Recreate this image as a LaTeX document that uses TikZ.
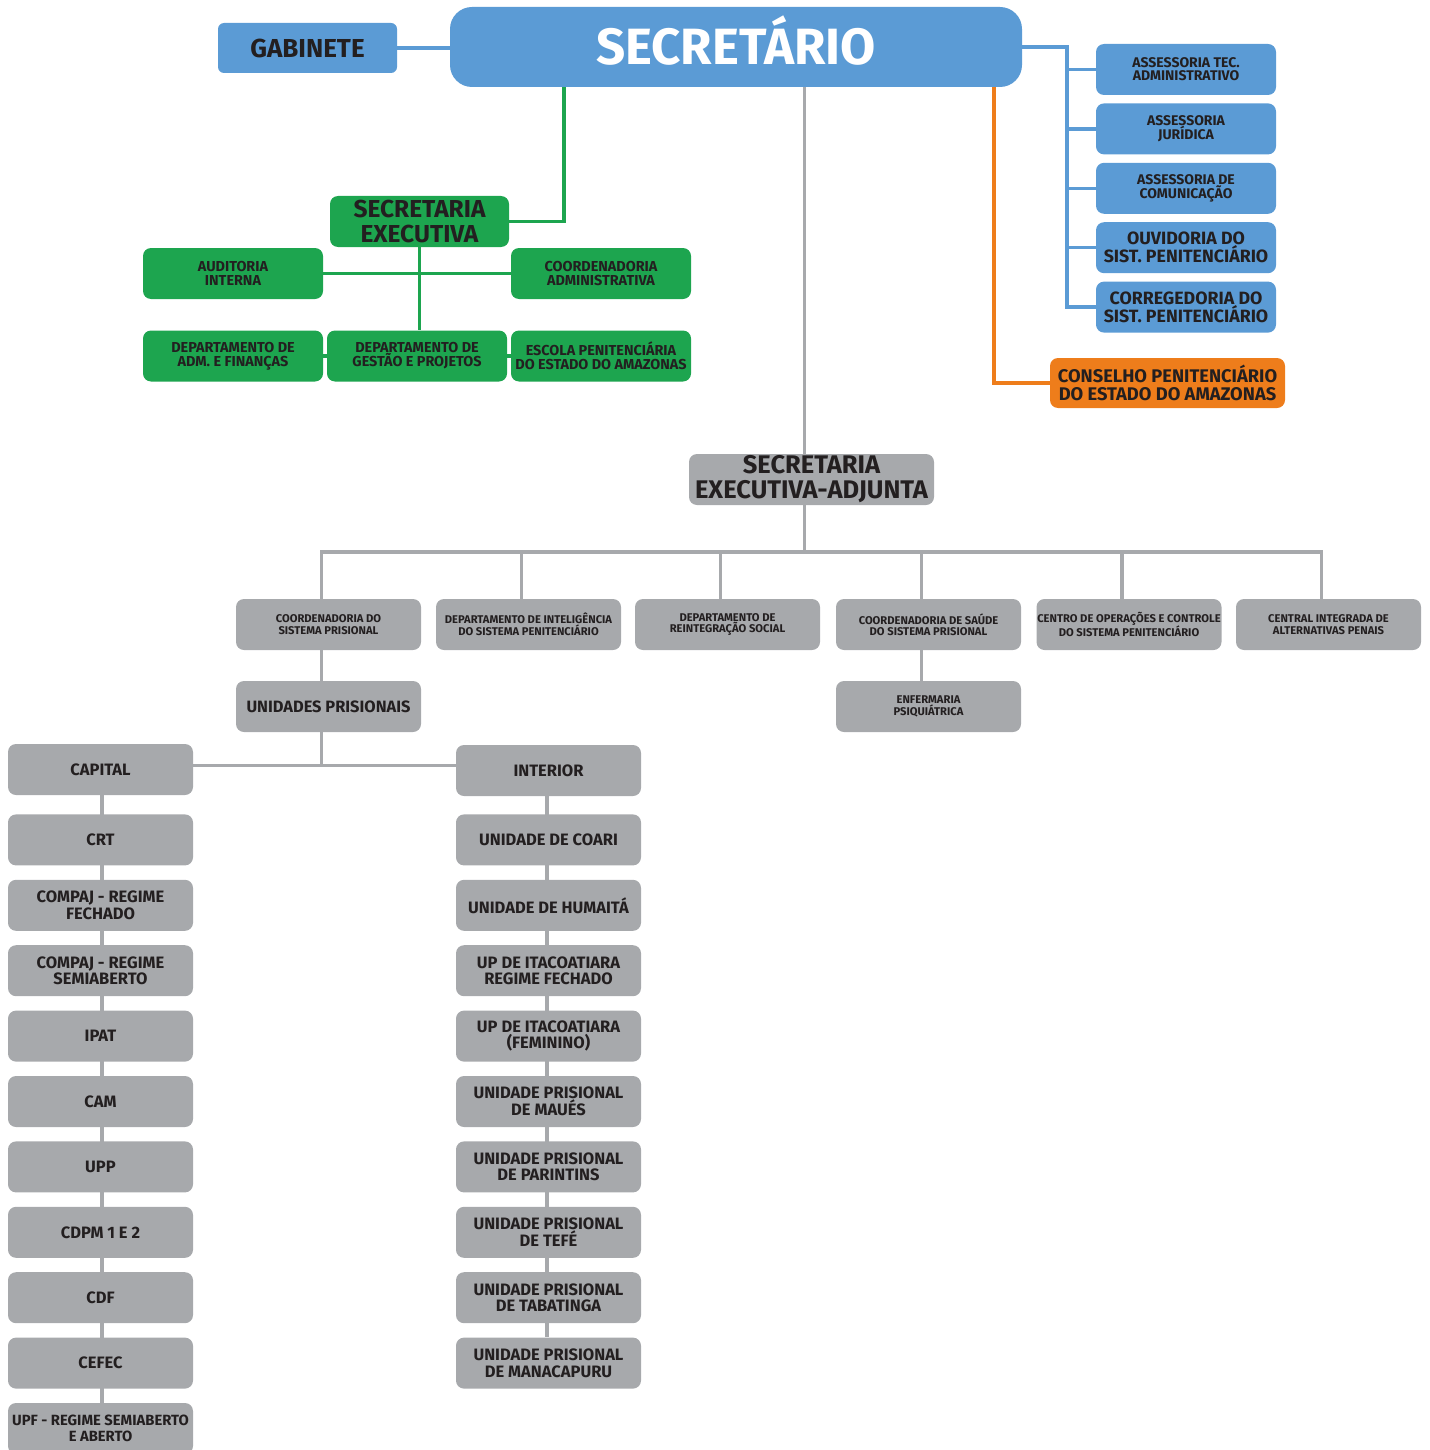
\documentclass[tikz,border=0pt]{standalone}
\usepackage{fontspec}
\setmainfont{Fira Sans}
\usetikzlibrary{positioning, backgrounds}
\definecolor{secblue}{HTML}{5B9BD5}
\definecolor{secgreen}{HTML}{1DA54F}
\definecolor{secorange}{HTML}{EE7D1B}
\definecolor{secgrey}{HTML}{A7A9AC}
\definecolor{sectext}{HTML}{231F20}

\begin{document}
\begin{tikzpicture}[x=1pt, y=-1pt,
    node distance=14pt,
    box/.style={rectangle, rounded corners=8pt, inner sep=0pt, align=center, text=sectext, minimum height=51pt},
    bluebox/.style={box, fill=secblue, minimum width=180pt},
    greenbox/.style={box, fill=secgreen, minimum width=180pt},
    greybox/.style={box, fill=secgrey, minimum width=185pt},
    orangebox/.style={box, fill=secorange, minimum width=235pt, minimum height=50pt},
    unitbox/.style={greybox, font=\bfseries\fontsize{16.5}{16.5}\selectfont},
    smallgrey/.style={greybox, font=\bfseries\fontsize{11.2}{11.5}\selectfont},
    smallgreen/.style={greenbox, font=\bfseries\fontsize{14.4}{14}\selectfont},
    smallblue/.style={bluebox, font=\bfseries\fontsize{14}{13}\selectfont},
    bigblue/.style={bluebox, font=\bfseries\fontsize{17.8}{18}\selectfont},
    blueline/.style={draw=secblue, line width=3.5pt},
    greenline/.style={draw=secgreen, line width=3.5pt},
    greyline/.style={draw=secgrey, line width=3.5pt},
    orangeline/.style={draw=secorange, line width=3.5pt}
]
\useasboundingbox (0,0) rectangle (1429,1450);

% topo
\node[bluebox, minimum width=572pt, minimum height=80pt, rounded corners=22pt, text=white, text height=35pt, text depth=0pt, font=\bfseries\fontsize{51}{51}\selectfont] (sec) at (736,47) {SECRETÁRIO};
\node[bluebox, minimum width=179pt, minimum height=50pt, rounded corners=6pt, font=\bfseries\fontsize{26}{26}\selectfont] (gab) at (307.5,48) {GABINETE};

% assessorias
\node[smallblue] (asstec) at (1186,69.5) {ASSESSORIA TEC.\\ADMINISTRATIVO};
\node[smallblue, below=8pt of asstec] (assjur) {ASSESSORIA\\JURÍDICA};
\node[smallblue, below=8pt of assjur] (asscom) {ASSESSORIA DE\\COMUNICAÇÃO};
\node[bigblue, below=8pt of asscom] (ouv) {OUVIDORIA DO\\SIST. PENITENCIÁRIO};
\node[bigblue, below=8pt of ouv] (corr) {CORREGEDORIA DO\\SIST. PENITENCIÁRIO};

% conselho
\node[orangebox, font=\bfseries\fontsize{18.3}{18}\selectfont] (cons) at (1167.5,383) {CONSELHO PENITENCIÁRIO\\DO ESTADO DO AMAZONAS};

% secretaria executiva
\node[greenbox, minimum width=179pt, font=\bfseries\fontsize{24.5}{25}\selectfont] (secexec) at (419.5,221.5) {SECRETARIA\\EXECUTIVA};
\node[smallgreen] (aud) at (233,273.5) {AUDITORIA\\INTERNA};
\node[smallgreen] (coordadm) at (601,273.5) {COORDENADORIA\\ADMINISTRATIVA};
\node[smallgreen] (admfin) at (233,356) {DEPARTAMENTO DE\\ADM. E FINANÇAS};
\node[smallgreen] (gestao) at (417,356) {DEPARTAMENTO DE\\GESTÃO E PROJETOS};
\node[smallgreen] (escola) at (601,356) {ESCOLA PENITENCIÁRIA\\DO ESTADO DO AMAZONAS};

% secretaria executiva-adjunta
\node[greybox, minimum width=245pt, font=\bfseries\fontsize{25.5}{25}\selectfont] (adj) at (811.5,479.5) {SECRETARIA\\EXECUTIVA-ADJUNTA};
\coordinate (bar) at (804.5,552);
\node[smallgrey] (coordsp) at (328.5,624.5) {COORDENADORIA DO\\SISTEMA PRISIONAL};
\node[smallgrey] (intel) at (528.5,624.5) {DEPARTAMENTO DE INTELIGÊNCIA\\DO SISTEMA PENITENCIÁRIO};
\node[smallgrey] (reint) at (727.5,624.5) {DEPARTAMENTO DE\\REINTEGRAÇÃO SOCIAL};
\node[smallgrey] (saude) at (928.5,624.5) {COORDENADORIA DE SAÚDE\\DO SISTEMA PRISIONAL};
\node[smallgrey] (cop) at (1129,624.5) {CENTRO DE OPERAÇÕES E CONTROLE\\DO SISTEMA PENITENCIÁRIO};
\node[smallgrey] (cipen) at (1328.5,624.5) {CENTRAL INTEGRADA DE\\ALTERNATIVAS PENAIS};
\node[greybox, font=\bfseries\fontsize{16.4}{16}\selectfont] (unid) at (328.5,706.5) {UNIDADES PRISIONAIS};
\node[smallgrey] (enf) at (928.5,706.5) {ENFERMARIA\\PSIQUIÁTRICA};

% capital
\node[unitbox] (capital) at (100.5,769.5) {CAPITAL};
\node[unitbox, below=19pt of capital] (crt) {CRT};
\node[unitbox, below=of crt] (compajf) {COMPAJ - REGIME\\FECHADO};
\node[unitbox, below=of compajf] (compajs) {COMPAJ - REGIME\\SEMIABERTO};
\node[unitbox, below=of compajs] (ipat) {IPAT};
\node[unitbox, below=of ipat] (cam) {CAM};
\node[unitbox, below=of cam] (upp) {UPP};
\node[unitbox, below=of upp] (cdpm) {CDPM 1 E 2};
\node[unitbox, below=of cdpm] (cdf) {CDF};
\node[unitbox, below=of cdf] (cefec) {CEFEC};
\node[unitbox, below=of cefec, font=\bfseries\fontsize{14.8}{16}\selectfont] (upf) {UPF - REGIME SEMIABERTO\\E ABERTO};

% interior
\node[unitbox] (interior) at (548.5,770.5) {INTERIOR};
\node[unitbox, below=18pt of interior] (coari) {UNIDADE DE COARI};
\node[unitbox, below=of coari] (humaita) {UNIDADE DE HUMAITÁ};
\node[unitbox, below=of humaita] (itaf) {UP DE ITACOATIARA\\REGIME FECHADO};
\node[unitbox, below=of itaf] (itafem) {UP DE ITACOATIARA\\(FEMININO)};
\node[unitbox, below=of itafem] (maues) {UNIDADE PRISIONAL\\DE MAUÉS};
\node[unitbox, below=of maues] (parintins) {UNIDADE PRISIONAL\\DE PARINTINS};
\node[unitbox, below=of parintins] (tefe) {UNIDADE PRISIONAL\\DE TEFÉ};
\node[unitbox, below=of tefe] (tabatinga) {UNIDADE PRISIONAL\\DE TABATINGA};
\node[unitbox, below=of tabatinga] (manacapuru) {UNIDADE PRISIONAL\\DE MANACAPURU};

\begin{scope}[on background layer]
% ligacoes azuis
\draw[blueline] (gab.east) -- (sec.west |- gab.east);
\draw[blueline] (sec.east) -| ([xshift=-29pt]corr.west) -- (corr.west);
\draw[blueline] (asstec.west) -- ++(-29pt,0);
\draw[blueline] (assjur.west) -- ++(-29pt,0);
\draw[blueline] (asscom.west) -- ++(-29pt,0);
\draw[blueline] (ouv.west) -- ++(-29pt,0);

% ligacao laranja
\draw[orangeline] (cons.west) -| ([xshift=258pt]sec.south);

% ligacoes verdes
\draw[greenline] (secexec.east) -| ([xshift=-172pt]sec.south);
\draw[greenline] (secexec.south) -- (secexec.south |- gestao.north);
\draw[greenline] (aud.east) -- (coordadm.west);
\draw[greenline] (admfin.east) -- (gestao.west);
\draw[greenline] (gestao.east) -- (escola.west);

% ligacoes cinzas
\draw[greyline] ([xshift=-7pt]adj.north) -- ([xshift=-7pt]adj.north |- sec.south);
\draw[greyline] ([xshift=-7pt]adj.south) -- (bar);
\draw[greyline] ([xshift=-7pt]coordsp.north) |- (bar);
\draw[greyline] ([xshift=-7pt]intel.north) |- (bar);
\draw[greyline] ([xshift=-7pt]reint.north) |- (bar);
\draw[greyline] ([xshift=-7pt]saude.north) |- (bar);
\draw[greyline] ([xshift=-7pt]cop.north) |- (bar);
\draw[greyline] ([xshift=-7pt]cipen.north) |- (bar);
\draw[greyline] ([xshift=-7pt]coordsp.south) -- ([xshift=-7pt]unid.north);
\draw[greyline] ([xshift=-7pt]saude.south) -- ([xshift=-7pt]enf.north);
\draw[greyline] ([xshift=-7pt]unid.south) -- ([xshift=-7pt,yshift=4pt]unid.south |- capital.east);
\draw[greyline] ([yshift=4pt]capital.east) -- ([yshift=4pt]capital.east -| interior.west);

% colunas
\draw[greyline] ([xshift=1.5pt]capital.south) -- ([xshift=1.5pt]upf.north);
\draw[greyline] ([xshift=-1.5pt]interior.south) -- ([xshift=-1.5pt]manacapuru.north);
\end{scope}
\end{tikzpicture}
\end{document}
